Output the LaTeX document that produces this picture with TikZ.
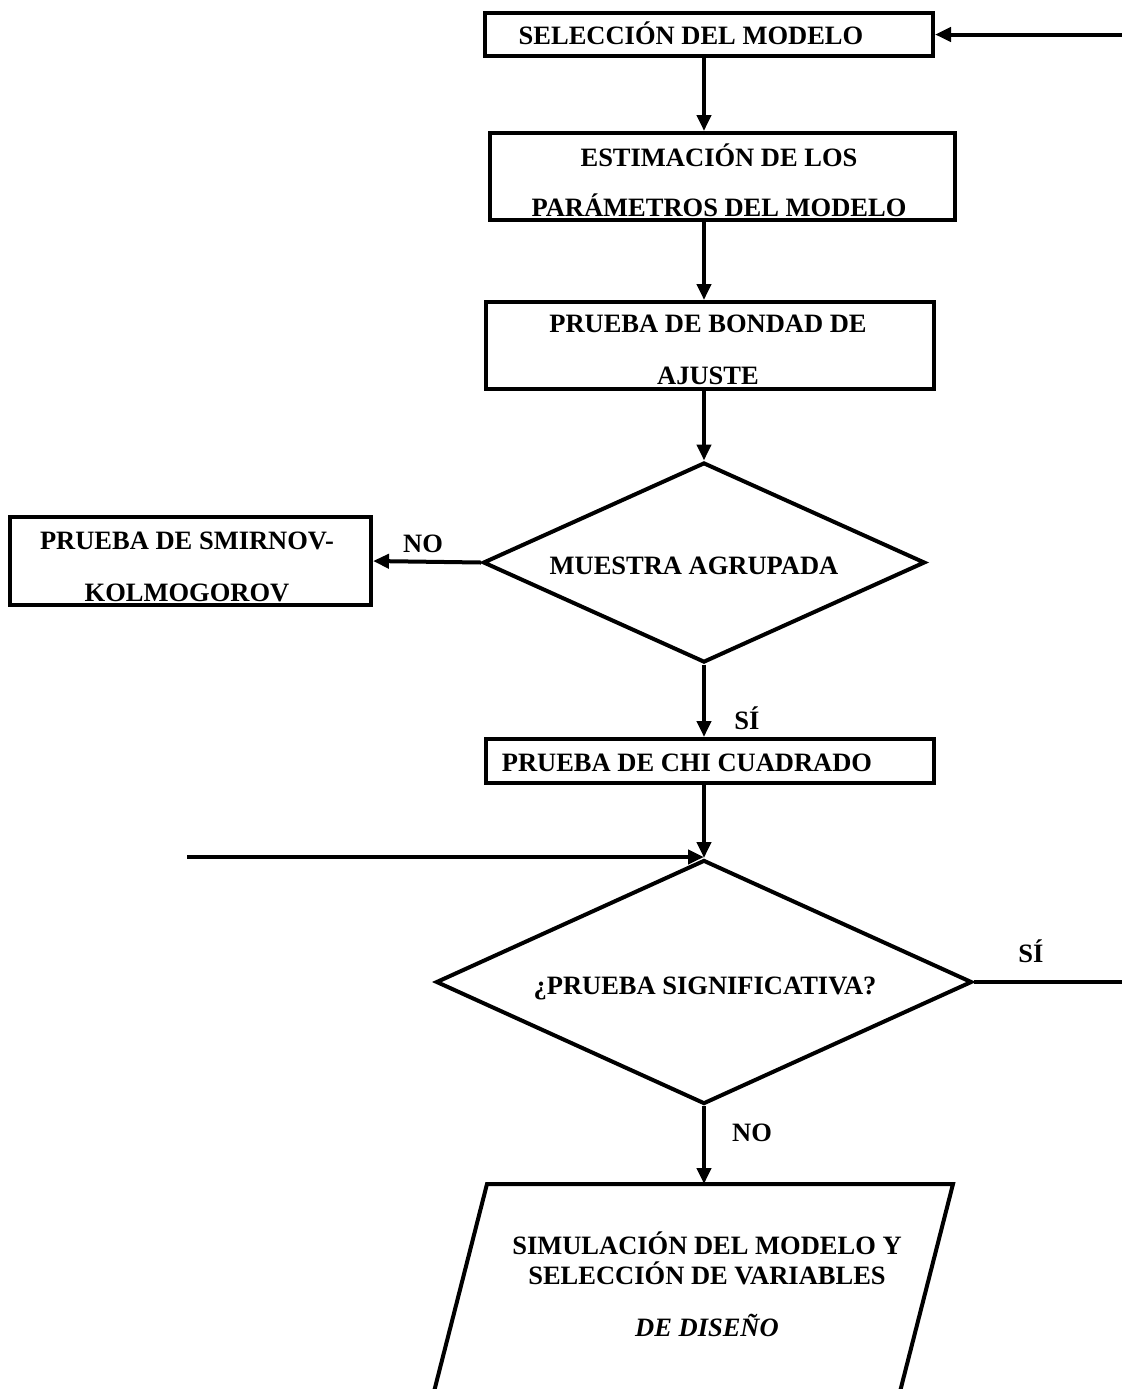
\documentclass[tikz,border=0pt]{standalone}
\usepackage{fontspec}
\setmainfont{Liberation Serif}
\usetikzlibrary{arrows.meta,shapes.geometric}
\begin{document}
\begin{tikzpicture}[x=0.5pt,y=-0.5pt,
  every node/.style={font=\fontsize{13.25}{16}\selectfont\bfseries},
  box/.style={draw, line width=2pt, rectangle, inner sep=0pt},
  dec/.style={draw, line width=2pt, diamond, inner sep=0pt},
  txt/.style={anchor=base, inner sep=0pt},
  conn/.style={line width=2pt},
  arr/.style={line width=2pt, -{Triangle[length=8pt,width=7pt]}}]
\useasboundingbox (0,0) rectangle (1122,1389);
\clip (0,0) rectangle (1122,1389);

\coordinate (ax) at (704,0);
\coordinate (r1) at (1122,34.5);
\coordinate (in2) at (187,857);

% boxes
\node[box, minimum width=224pt, minimum height=21.5pt] (b1) at (709,34.5) {};
\node[box, minimum width=232.5pt, minimum height=43.5pt] (b2) at (722.5,176.5) {};
\node[box, minimum width=224pt, minimum height=43.5pt] (b3) at (710,345.5) {};
\node[box, minimum width=180.5pt, minimum height=44pt] (b4) at (190.5,561) {};
\node[box, minimum width=224pt, minimum height=22pt] (b5) at (710,761) {};
\node[dec, minimum width=221pt, minimum height=100pt] (d1) at (704,562.5) {};
\node[dec, minimum width=268pt, minimum height=122pt] (d2) at (704,982) {};

% parallelogram (cut by the page bottom)
\coordinate (p1) at (487,1184);
\coordinate (p2) at (953,1184);
\coordinate (p3) at (880,1470);
\coordinate (p4) at (414,1470);
\coordinate (ptop) at (704,1184);
\draw[conn, line join=miter] (p4) -- (p1) -- (p2) -- (p3);

% texts
\node[txt] (t1) at (691,44) {SELECCIÓN DEL MODELO};
\node[txt] (t2a) at (719,166) {ESTIMACIÓN DE LOS};
\node[txt] (t2b) at (719,216) {PARÁMETROS DEL MODELO};
\node[txt] (t3a) at (708,332) {PRUEBA DE BONDAD DE};
\node[txt] (t3b) at (708,384) {AJUSTE};
\node[txt] (t4a) at (187,549) {PRUEBA DE SMIRNOV-};
\node[txt] (t4b) at (187,601) {KOLMOGOROV};
\node[txt] (td1) at (694,574) {MUESTRA AGRUPADA};
\node[txt] (t5) at (687,771) {PRUEBA DE CHI CUADRADO};
\node[txt] (td2) at (705,994) {¿PRUEBA SIGNIFICATIVA?};
\node[txt] (t6a) at (707,1254) {SIMULACIÓN DEL MODELO Y};
\node[txt] (t6b) at (707,1284) {SELECCIÓN DE VARIABLES};
\node[txt] (t6c) at (707,1336) {\itshape DE DISEÑO};

% labels
\node[txt] (l1) at (423,552) {NO};
\node[txt] (l2) at (747,729) {SÍ};
\node[txt] (l3) at (1031,962) {SÍ};
\node[txt] (l4) at (752,1141) {NO};

% connectors
\draw[arr] (r1) -- (b1.east);
\draw[arr] (b1.south -| ax) -- (b2.north -| ax);
\draw[arr] (b2.south -| ax) -- (b3.north -| ax);
\draw[arr] (b3.south -| ax) -- (d1.north);
\draw[arr] (d1.west) -- (b4.east);
\draw[arr] (d1.south) -- (b5.north -| ax);
\draw[arr] (b5.south -| ax) -- (d2.north);
\draw[arr] (in2) -- (in2 -| d2.north);
\draw[conn] (d2.east) -- (d2.east -| r1);
\draw[arr] (d2.south) -- (ptop);
\end{tikzpicture}
\end{document}
